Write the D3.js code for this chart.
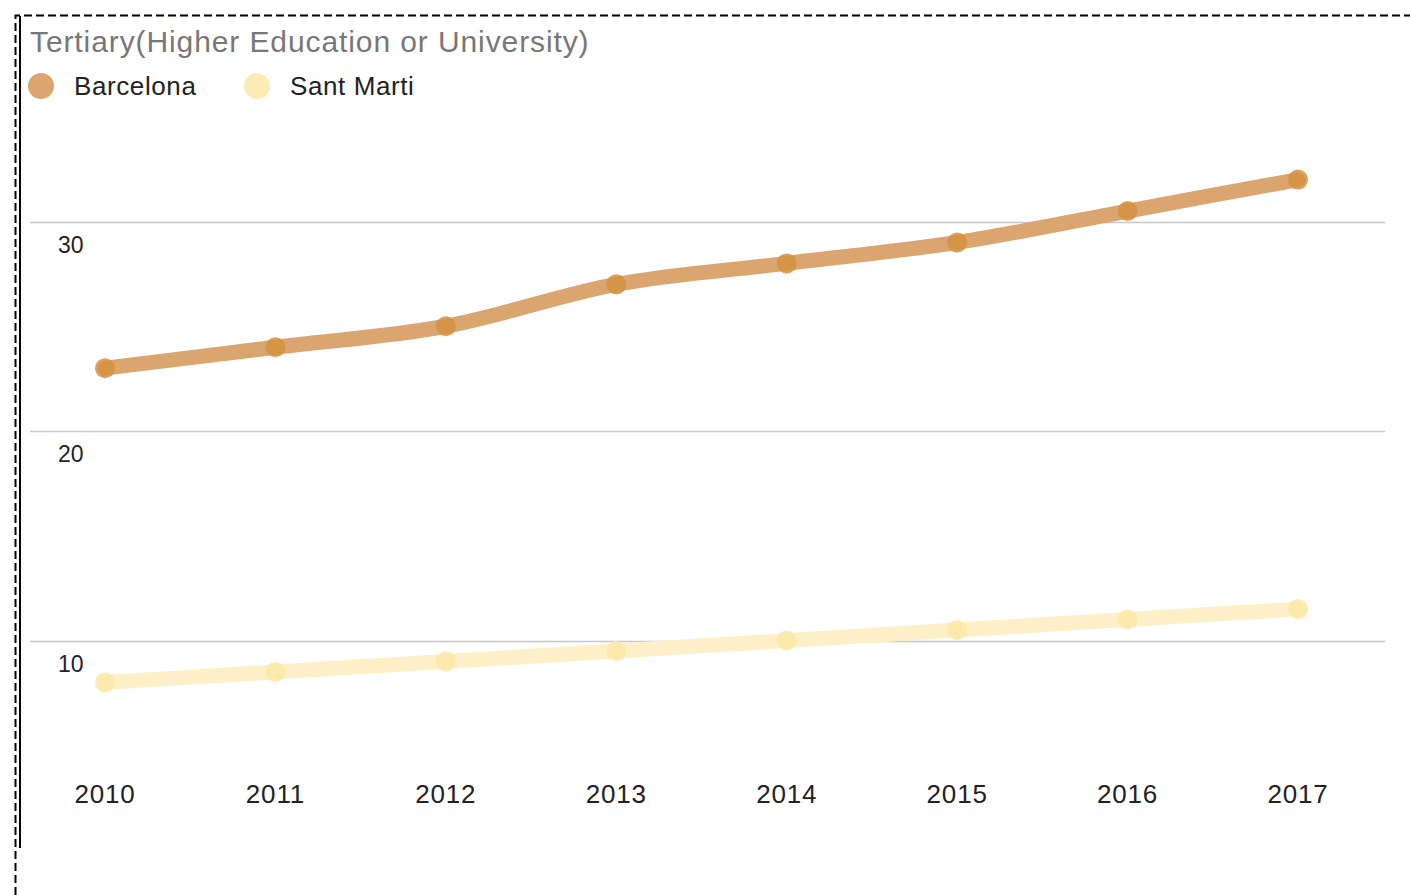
<!DOCTYPE html>
<html>
<head>
<meta charset="utf-8">
<script src="https://cdn.jsdelivr.net/npm/d3@7"></script>
<style>
  body { margin: 0; background: #fff; }
  svg { display: block; font-family: "Liberation Sans", Arial, sans-serif; }
</style>
</head>
<body>
<div id="chart-area"></div>
<script>
// chart data
let years = [2010, 2011, 2012, 2013, 2014, 2015, 2016, 2017];
let barcelona = [23.0, 24.0, 25.0, 27.0, 28.0, 29.0, 30.5, 32.0];
let santMarti = [8.0, 8.5, 9.0, 9.5, 10.0, 10.5, 11.0, 11.5];
let seriesNames = ["Barcelona", "Sant Marti"];
let yTicks = [10, 20, 30];
let title = "Tertiary(Higher Education or University)";

let width = 1410, height = 895;

let svg = d3.select("#chart-area").append("svg")
    .attr("width", width)
    .attr("height", height);

// dashed outer frame
svg.append("path")
    .attr("d", "M15.5,895 V15.5 H1410")
    .attr("fill", "none")
    .attr("stroke", "#000")
    .attr("stroke-width", 2)
    .attr("stroke-dasharray", "8,4");

// solid inner edge
svg.append("line")
    .attr("x1", 20).attr("x2", 20)
    .attr("y1", 16).attr("y2", 848)
    .attr("stroke", "#000")
    .attr("stroke-width", 2);

// scales
let x = d3.scalePoint()
    .domain(years)
    .range([105, 1298]);

let y = d3.scaleLinear()
    .domain([0, 35])
    .range([850, 850 - 35 * 20.95]);

let colors = d3.scaleOrdinal()
    .domain(seriesNames)
    .range(["#daa56e", "#fdf0c8"]);
let pointColors = d3.scaleOrdinal()
    .domain(seriesNames)
    .range(["#d4913f", "#fde7a6"]);
let legendColors = d3.scaleOrdinal()
    .domain(seriesNames)
    .range(["#daa56e", "#fdebb5"]);

// gridlines
svg.append("g").selectAll("line")
    .data(yTicks)
    .enter().append("line")
    .attr("x1", 30).attr("x2", 1385)
    .attr("y1", d => Math.round(y(d)) + 0.5)
    .attr("y2", d => Math.round(y(d)) + 0.5)
    .attr("stroke", "#c8c8c8")
    .attr("stroke-width", 1.5);

// y tick labels
svg.append("g").selectAll("text")
    .data(yTicks)
    .enter().append("text")
    .attr("x", 58)
    .attr("y", d => y(d) + 31)
    .attr("font-size", 23)
    .attr("fill", "#222")
    .text(d => d);

// x labels
svg.append("g").selectAll("text")
    .data(years)
    .enter().append("text")
    .attr("x", d => x(d))
    .attr("y", 803)
    .attr("text-anchor", "middle")
    .attr("font-size", 26)
    .attr("fill", "#222")
    .attr("letter-spacing", 0.8)
    .text(d => d);

// series
let series = [
    { name: "Barcelona", values: barcelona },
    { name: "Sant Marti", values: santMarti }
];

let line = d3.line()
    .x((d, i) => x(years[i]))
    .y(d => y(d))
    .curve(d3.curveMonotoneX);

series.forEach(s => {
    svg.append("path")
        .attr("d", line(s.values))
        .attr("fill", "none")
        .attr("stroke", colors(s.name))
        .attr("stroke-width", 15)
        .attr("stroke-linecap", "round");

    svg.append("g").selectAll("circle")
        .data(s.values)
        .enter().append("circle")
        .attr("cx", (d, i) => x(years[i]))
        .attr("cy", d => y(d))
        .attr("r", 10)
        .attr("fill", pointColors(s.name))
        .attr("opacity", 0.85);
});

// title
svg.append("text")
    .attr("x", 30)
    .attr("y", 52)
    .attr("font-size", 30)
    .attr("fill", "#777")
    .attr("letter-spacing", 0.9)
    .text(title);

// legend
let legendX = [41, 257];
seriesNames.forEach((name, i) => {
    svg.append("circle")
        .attr("cx", legendX[i])
        .attr("cy", 86)
        .attr("r", 13)
        .attr("fill", legendColors(name));
    svg.append("text")
        .attr("x", legendX[i] + 33)
        .attr("y", 95)
        .attr("font-size", 26)
        .attr("fill", "#222")
        .attr("letter-spacing", 0.6)
        .text(name);
});
</script>
</body>
</html>
